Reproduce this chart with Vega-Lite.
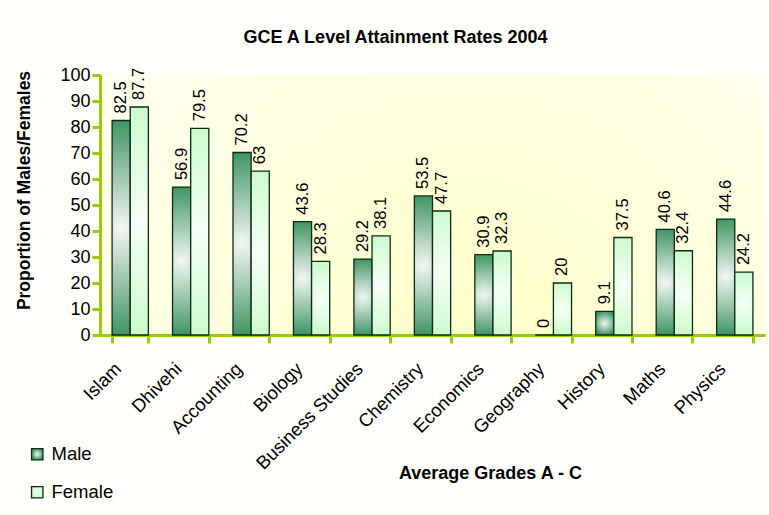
{
  "$schema": "https://vega.github.io/schema/vega-lite/v6.json",
  "width": 665,
  "height": 260,
  "autosize": {"type": "none"},
  "padding": {"left": 100, "top": 75, "right": 4, "bottom": 180},
  "background": "#fffffb",
  "config": {
    "font": "Liberation Sans",
    "view": {
      "stroke": null,
      "fill": {"gradient": "radial", "x1": 0.55, "y1": 0.75, "r1": 0, "x2": 0.55, "y2": 0.75, "r2": 0.8,
        "stops": [{"offset": 0, "color": "#ffffc6"}, {"offset": 1, "color": "#fffff6"}]}
    }
  },
  "title": {"text": "GCE A Level Attainment Rates 2004", "fontSize": 18, "fontWeight": "bold", "color": "#000000", "dx": -37, "offset": 19},
  "data": {"values": [
    {"subject": "Islam", "gender": "Male", "value": 82.5},
    {"subject": "Islam", "gender": "Female", "value": 87.7},
    {"subject": "Dhivehi", "gender": "Male", "value": 56.9},
    {"subject": "Dhivehi", "gender": "Female", "value": 79.5},
    {"subject": "Accounting", "gender": "Male", "value": 70.2},
    {"subject": "Accounting", "gender": "Female", "value": 63},
    {"subject": "Biology", "gender": "Male", "value": 43.6},
    {"subject": "Biology", "gender": "Female", "value": 28.3},
    {"subject": "Business Studies", "gender": "Male", "value": 29.2},
    {"subject": "Business Studies", "gender": "Female", "value": 38.1},
    {"subject": "Chemistry", "gender": "Male", "value": 53.5},
    {"subject": "Chemistry", "gender": "Female", "value": 47.7},
    {"subject": "Economics", "gender": "Male", "value": 30.9},
    {"subject": "Economics", "gender": "Female", "value": 32.3},
    {"subject": "Geography", "gender": "Male", "value": 0},
    {"subject": "Geography", "gender": "Female", "value": 20},
    {"subject": "History", "gender": "Male", "value": 9.1},
    {"subject": "History", "gender": "Female", "value": 37.5},
    {"subject": "Maths", "gender": "Male", "value": 40.6},
    {"subject": "Maths", "gender": "Female", "value": 32.4},
    {"subject": "Physics", "gender": "Male", "value": 44.6},
    {"subject": "Physics", "gender": "Female", "value": 24.2}
  ]},
  "encoding": {
    "x": {
      "field": "subject", "type": "nominal", "sort": null,
      "scale": {"paddingInner": 0.4, "paddingOuter": 0.2},
      "axis": {
        "title": "Average Grades A - C", "titleFontSize": 18, "titleFontWeight": "bold", "titleColor": "#000000",
        "titleX": 390, "titleY": 129,
        "labelAngle": -45, "labelFontSize": 18.5, "labelColor": "#000000",
        "tickOffset": -12, "labelOffset": -19, "labelPadding": 16,
        "tickBand": "extent", "tickSize": 8, "tickWidth": 3, "tickColor": "#99cc00",
        "domainColor": "#99cc00", "domainWidth": 3
      }
    },
    "xOffset": {"field": "gender", "sort": ["Male", "Female"]},
    "y": {
      "field": "value", "type": "quantitative",
      "scale": {"domain": [0, 100], "nice": false},
      "axis": {
        "title": "Proportion of Males/Females", "titleFontSize": 17.5, "titleFontWeight": "bold", "titleColor": "#000000",
        "titleX": -67, "titleY": 115,
        "values": [0, 10, 20, 30, 40, 50, 60, 70, 80, 90, 100],
        "labelFontSize": 18, "labelColor": "#000000", "labelPadding": 2,
        "tickSize": 8, "tickWidth": 3, "tickColor": "#99cc00",
        "domainColor": "#99cc00", "domainWidth": 3, "grid": false
      }
    }
  },
  "layer": [
    {
      "mark": {"type": "bar", "stroke": "#0d2b17", "strokeWidth": 1.3},
      "encoding": {
        "color": {
          "field": "gender", "type": "nominal", "sort": ["Male", "Female"],
          "scale": {
            "domain": ["Male", "Female"],
            "range": [
              {"expr": "{gradient: 'radial', x1: 0.5, y1: 0.5, r1: 0, x2: 0.5, y2: 0.5, r2: 0.55, stops: [{offset: 0, color: '#f2f7f2'}, {offset: 1, color: '#2e8b57'}]}"},
              {"expr": "{gradient: 'radial', x1: 0.5, y1: 0.5, r1: 0, x2: 0.5, y2: 0.5, r2: 0.55, stops: [{offset: 0, color: '#f6fff6'}, {offset: 1, color: '#c8fac8'}]}"}
            ]
          },
          "legend": {
            "orient": "none", "legendX": -72, "legendY": 370, "title": null,
            "symbolType": "square", "symbolSize": 130, "symbolStrokeColor": "#0d2b17", "symbolStrokeWidth": 1.3,
            "labelFontSize": 18.5, "labelColor": "#000000", "rowPadding": 19, "labelOffset": 5
          }
        }
      }
    },
    {
      "mark": {"type": "text", "angle": 270, "align": "left", "baseline": "middle", "dx": 7, "fontSize": 16.5, "color": "#000000"},
      "encoding": {"text": {"field": "value", "type": "quantitative"}}
    }
  ]
}
